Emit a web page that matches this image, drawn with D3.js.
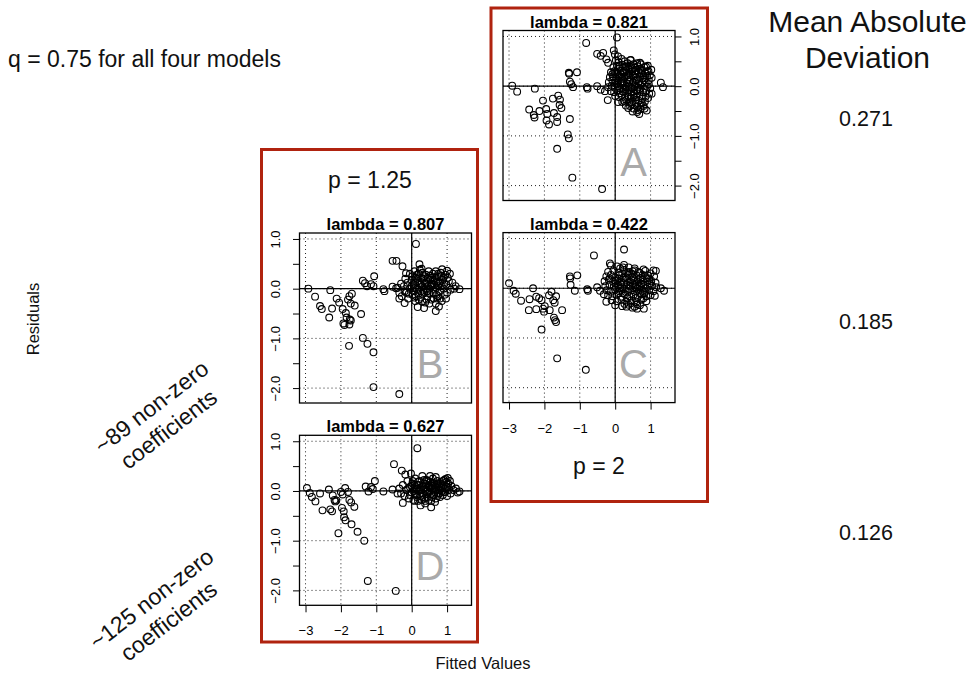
<!DOCTYPE html>
<html>
<head>
<meta charset="utf-8">
<script src="https://cdn.jsdelivr.net/npm/d3@7"></script>
<style>
  body { margin: 0; background: #fff; }
  svg { display: block; font-family: "Liberation Sans", Arial, Helvetica, sans-serif; }
</style>
</head>
<body>
<svg id="chart" width="972" height="673"></svg>
<script>
// ---- tick values and labels ----
const xTicks = [-3, -2, -1, 0, 1];
const yTicks = [1, 0.5, 0, -0.5, -1, -1.5, -2];
const yLabelTicks = [1, 0, -1, -2];
const gridX = [-3, -2, -1, 0, 1];
const gridY = [1, 0, -1, -2];

// ---- model summaries ----
const panelNames = ["A", "B", "C", "D"];
const lambdas = ["0.821", "0.807", "0.422", "0.627"];
const madValues = ["0.271", "0.185", "0.126"];

// ---- residuals vs fitted values: [fitted, residual] ----
const residA = [
  [-2.91,0.01],[-2.77,-0.11],[-2.27,-0.05],[-2.43,-0.47],[-2.3,-0.58],[-2.28,-0.63],[-2.14,-0.5],[-2.04,-0.29],
  [-1.95,-0.46],[-1.92,-0.56],[-1.94,-0.69],[-1.87,-0.77],[-1.76,-0.25],[-1.73,-0.54],[-1.64,-0.62],[-1.64,-0.72],
  [-1.61,-0.19],[-1.57,-0.38],[-1.52,-0.44],[-1.56,-0.27],[-1.64,-1.26],[-1.34,-0.97],[-1.31,-1.05],[-1.28,-0.66],
  [-1.21,-1.84],[-1.31,0.27],[-1.3,0.25],[-1.08,0.28],[-1.28,0.09],[-1.19,-0.02],[-1.24,0.04],[-0.82,0.87],
  [-0.8,-0.02],[-0.78,-0.05],[-0.51,0.0],[-0.41,-0.07],[-0.29,-0.1],[-0.21,-0.28],[-0.37,-2.07],[0.05,0.98],
  [-0.51,0.65],[-0.41,0.61],[-0.34,0.67],[-0.25,0.54],[-0.2,0.47],[-0.04,0.72],[-0.01,0.64],[0.08,0.6],
  [1.29,0.07],[1.35,-0.02],[0.08,-0.32],[0.3,-0.39],[0.37,-0.44],[0.49,-0.51],[0.62,-0.52],[0.68,-0.56],
  [0.89,-0.49],[0.43,0.52],[0.7,0.47],[0.87,0.39],[1.02,0.33],[1.03,0.17],[0.98,0.22],[1.03,-0.15],
  [0.02,0.52],[0.1,0.48],[0.18,0.55],[0.27,0.5],[0.35,0.46],[0.44,0.53],[0.52,0.44],
  [-0.05,0.38],[0.05,0.41],[0.12,0.36],[0.2,0.43],[0.28,0.39],[0.37,0.35],[0.45,0.42],[0.55,0.37],[0.64,0.4],[0.73,0.44],[0.82,0.38],[0.92,0.41],
  [-0.12,0.28],[-0.02,0.3],[0.07,0.25],[0.15,0.31],[0.23,0.27],[0.31,0.32],[0.4,0.26],[0.48,0.3],[0.57,0.24],[0.66,0.29],[0.75,0.32],[0.85,0.26],[0.94,0.3],
  [-0.15,0.18],[-0.06,0.2],[0.03,0.16],[0.11,0.21],[0.19,0.15],[0.27,0.19],[0.36,0.22],[0.44,0.17],[0.53,0.2],[0.61,0.14],[0.7,0.19],[0.79,0.16],[0.9,0.2],
  [-0.18,0.08],[-0.08,0.12],[0.0,0.07],[0.08,0.11],[0.16,0.06],[0.24,0.1],[0.33,0.05],[0.41,0.12],[0.5,0.08],[0.58,0.04],[0.67,0.1],[0.76,0.06],[0.86,0.09],[0.95,0.04],
  [-0.2,-0.02],[-0.1,0.01],[-0.01,-0.03],[0.07,0.0],[0.14,-0.04],[0.22,0.02],[0.3,-0.02],[0.39,0.01],[0.47,-0.04],[0.55,0.0],[0.64,-0.03],[0.72,0.02],[0.81,-0.05],[0.9,-0.01],[0.99,-0.04],
  [-0.12,-0.1],[-0.03,-0.12],[0.06,-0.09],[0.13,-0.14],[0.21,-0.1],[0.29,-0.13],[0.37,-0.08],[0.45,-0.12],[0.53,-0.1],[0.62,-0.14],[0.7,-0.09],[0.79,-0.12],[0.88,-0.1],[0.96,-0.15],
  [0.0,-0.2],[0.1,-0.22],[0.19,-0.18],[0.28,-0.23],[0.36,-0.2],[0.44,-0.24],[0.52,-0.19],[0.6,-0.22],[0.69,-0.2],[0.77,-0.25],[0.86,-0.21],[0.93,-0.24],
  [0.2,-0.32],[0.31,-0.28],[0.41,-0.33],[0.5,-0.3],[0.58,-0.35],[0.66,-0.29],[0.75,-0.34],[0.84,-0.31],
  [0.42,-0.4],[0.52,-0.45],[0.62,-0.41],[0.72,-0.46],[0.8,-0.4],
  [0.05,0.05],[0.15,0.18],[0.25,0.3],[0.35,0.12],[0.45,-0.02],[0.55,0.3],[0.65,0.05],[0.12,0.4],[0.3,-0.05],[0.42,0.38],
  [0.6,-0.08],[0.7,0.35],[0.5,0.22],[0.8,0.22],[0.2,0.08],[0.38,-0.22],[0.58,-0.28],[0.72,-0.38],[0.62,0.46],
  [0.03,0.28],[0.1,0.0],[0.17,0.24],[0.24,-0.07],[0.32,0.4],[0.39,0.18],[0.46,0.34],[0.53,-0.15],[0.6,0.32],[0.68,-0.06],
  [0.74,0.26],[0.82,0.12],[0.9,0.3],[0.25,-0.3],[0.47,-0.36],[0.65,-0.48],[0.83,-0.45],[0.95,0.12],[-0.08,0.24],[0.58,0.12]
];

const residB = [
  [-2.92,0.0],[-2.73,-0.16],[-2.59,-0.35],[-2.54,-0.41],[-2.33,-0.58],[-2.3,-0.03],[-2.25,-0.4],[-2.12,-0.2],
  [-2.05,-0.28],[-1.95,-0.41],[-1.86,-0.49],[-1.84,-0.58],[-1.93,-0.7],[-1.9,-0.73],[-1.76,-0.72],[-1.72,-0.64],
  [-1.76,-0.15],[-1.69,-0.1],[-1.8,-0.22],[-1.72,-0.3],[-1.61,-0.34],[-1.75,-0.62],[-1.43,-0.51],[-1.77,-1.15],
  [-1.38,-0.99],[-1.25,-1.11],[-1.08,-1.28],[-1.08,-1.98],[-0.35,-2.12],[-1.38,0.16],[-1.32,0.11],[-1.26,0.05],
  [-1.15,0.09],[-1.08,0.05],[-1.06,0.25],[-0.8,-0.01],[-0.77,-0.05],[-0.54,0.56],[-0.43,0.56],[0.12,0.9],
  [-0.26,0.45],[-0.16,0.31],[0.22,0.49],[-0.54,0.04],[-0.44,0.01],[-0.2,-0.29],[-0.35,-0.2],[1.35,-0.01],
  [1.24,0.05],[0.86,0.39],[1.0,0.36],[0.17,-0.37],[0.35,-0.39],[0.68,-0.45],[0.77,-0.36],
  [-0.4,0.02],[-0.35,-0.08],[-0.3,0.1],[-0.28,-0.15],[-0.22,0.05],[-0.18,0.2],[-0.15,-0.08],[-0.12,0.12],[-0.1,-0.2],[-0.05,0.3],
  [-0.05,0.0],[0.0,0.18],[0.02,-0.12],[0.05,0.08],[0.08,0.35],[0.1,-0.25],[0.12,0.22],[0.15,0.0],[0.18,-0.1],[0.2,0.3],
  [0.22,0.12],[0.25,-0.18],[0.28,0.4],[0.3,0.05],[0.32,0.2],[0.35,-0.08],[0.38,-0.28],[0.4,0.28],[0.42,0.1],[0.45,-0.15],
  [0.48,0.35],[0.5,0.0],[0.52,0.18],[0.55,-0.22],[0.58,0.08],[0.6,0.3],[0.62,-0.1],[0.65,0.15],[0.68,-0.3],[0.7,0.02],
  [0.72,0.25],[0.75,-0.15],[0.78,0.1],[0.8,-0.05],[0.82,0.32],[0.85,-0.25],[0.88,0.18],[0.9,0.0],[0.93,-0.12],[0.95,0.28],
  [0.98,0.08],[1.0,-0.08],[1.05,0.15],[1.08,0.3],[1.1,-0.02],[1.15,0.12],[1.2,0.0],
  [0.0,0.05],[0.05,-0.05],[0.1,0.12],[0.15,0.2],[0.2,-0.02],[0.25,0.08],[0.3,-0.1],[0.35,0.15],[0.4,0.0],[0.45,0.2],
  [0.5,-0.08],[0.55,0.1],[0.6,-0.02],[0.65,0.22],[0.7,-0.12],[0.75,0.05],[0.8,0.15],[0.85,0.05],[0.15,0.28],[0.3,0.32],
  [0.45,0.05],[0.6,0.18],[0.75,0.3],[0.2,-0.22],[0.42,-0.22],[0.62,-0.2],[0.8,-0.2],[-0.08,-0.1],[-0.2,-0.05],[0.33,-0.02],
  [0.52,0.26],[0.7,0.12],[0.9,0.22],[0.1,0.02],[0.27,0.22],[0.12,-0.15],
  [0.02,0.25],[0.08,-0.18],[0.18,0.15],[0.26,-0.05],[0.36,0.25],[0.44,-0.05],[0.54,0.05],[0.64,0.08],[0.72,-0.2],[0.84,0.25],
  [0.92,0.1],[1.02,0.22],[0.5,-0.3],[0.3,-0.25],[-0.12,0.05],[0.38,0.1],[0.58,0.22],[0.68,0.35],[0.97,-0.2],[0.23,0.38]
];

const residC = [
  [-3.0,0.1],[-2.87,-0.05],[-2.81,-0.11],[-2.66,-0.25],[-2.44,-0.44],[-2.42,-0.22],[-2.32,0.0],[-2.23,-0.17],
  [-2.23,-0.42],[-2.15,-0.2],[-2.08,-0.24],[-2.04,-0.41],[-2.01,-0.47],[-1.99,-0.36],[-1.87,-0.14],[-1.85,-0.44],
  [-1.8,-0.07],[-1.75,-0.24],[-1.71,-0.29],[-1.67,-0.16],[-1.73,-0.59],[-1.67,-0.68],[-1.7,-0.64],[-1.5,-0.44],
  [-2.08,-0.83],[-1.64,-1.41],[-0.83,-1.64],[-1.28,0.24],[-1.27,0.2],[-1.07,0.26],[-1.26,0.07],[-1.14,-0.05],
  [-0.6,0.66],[-0.79,-0.02],[-0.77,-0.05],[-0.51,0.02],[-0.43,-0.05],[-0.32,-0.12],[-0.25,-0.27],[0.25,0.78],
  [-0.15,0.5],[0.25,0.47],[1.29,0.0],[1.38,-0.05],[0.32,-0.37],[0.49,-0.39],[0.62,-0.41],[0.81,-0.41],
  [1.15,0.35],[1.12,-0.15],
  [-0.12,0.46],[0.05,0.44],[0.22,0.42],[0.38,0.42],[0.55,0.4],[0.8,0.38],
  [-0.2,0.33],[-0.05,0.36],[0.1,0.32],[0.25,0.37],[0.4,0.33],[0.55,0.36],[0.7,0.31],[0.85,0.35],[1.0,0.3],[1.08,0.36],
  [-0.25,0.24],[-0.12,0.27],[0.0,0.22],[0.12,0.26],[0.24,0.21],[0.36,0.27],[0.48,0.23],[0.6,0.26],[0.72,0.21],[0.84,0.25],[0.96,0.2],[1.1,0.24],
  [-0.3,0.14],[-0.18,0.17],[-0.06,0.13],[0.06,0.16],[0.18,0.12],[0.3,0.17],[0.42,0.13],[0.54,0.16],[0.66,0.12],[0.78,0.17],[0.9,0.13],[1.02,0.15],[1.14,0.11],
  [-0.28,0.04],[-0.16,0.07],[-0.04,0.03],[0.08,0.06],[0.2,0.02],[0.32,0.07],[0.44,0.03],[0.56,0.06],[0.68,0.02],[0.8,0.07],[0.92,0.03],[1.04,0.05],[1.16,0.02],
  [-0.24,-0.04],[-0.12,-0.07],[0.0,-0.03],[0.12,-0.06],[0.24,-0.02],[0.36,-0.07],[0.48,-0.04],[0.6,-0.06],[0.72,-0.03],[0.84,-0.07],[0.96,-0.04],[1.08,-0.06],
  [-0.2,-0.14],[-0.08,-0.16],[0.04,-0.13],[0.16,-0.17],[0.28,-0.12],[0.4,-0.16],[0.52,-0.13],[0.64,-0.17],[0.76,-0.12],[0.88,-0.16],[1.0,-0.14],
  [-0.1,-0.24],[0.05,-0.26],[0.18,-0.23],[0.32,-0.27],[0.46,-0.24],[0.6,-0.27],[0.74,-0.23],[0.88,-0.26],
  [0.0,-0.34],[0.2,-0.36],[0.38,-0.33],[0.55,-0.37],[0.7,-0.34],
  [0.02,0.1],[0.14,0.0],[0.26,0.12],[0.38,-0.01],[0.5,0.1],[0.62,-0.01],[0.74,0.09],[0.86,0.0],[0.1,-0.1],[0.34,-0.2],
  [0.58,-0.2],[0.8,-0.2],[0.2,0.3],[0.46,0.3],[0.66,0.33],[0.92,0.26],[0.3,0.22],[0.7,-0.1],
  [0.0,0.15],[0.1,0.2],[0.16,0.08],[0.22,-0.1],[0.34,0.32],[0.4,0.05],[0.52,0.2],[0.58,0.02],[0.64,0.18],[0.7,0.04],
  [0.78,0.27],[0.82,-0.1],[0.9,0.2],[0.98,0.1],[0.44,-0.3],[0.26,-0.31],[0.62,-0.32],[-0.16,0.2],[0.14,0.4],[0.5,0.34]
];

const residD = [
  [-2.96,0.06],[-2.88,-0.04],[-2.82,-0.12],[-2.72,-0.21],[-2.59,-0.05],[-2.52,-0.39],[-2.34,0.03],[-2.3,-0.37],
  [-2.25,-0.41],[-2.23,-0.09],[-2.18,-0.18],[-2.16,-0.21],[-2.13,-0.19],[-2.07,-0.85],[-2.0,-0.02],[-1.95,-0.07],
  [-1.88,0.06],[-1.8,-0.02],[-1.97,-0.34],[-1.92,-0.41],[-1.91,-0.53],[-1.87,-0.59],[-1.76,-0.18],[-1.71,-0.23],
  [-1.62,-0.32],[-1.7,-0.67],[-1.53,-0.82],[-1.34,-1.0],[-1.24,-1.81],[-0.45,-2.01],[-1.3,0.09],[-1.22,-0.01],
  [-1.15,0.08],[-1.1,0.04],[-1.04,0.2],[-0.8,-0.01],[-0.5,0.54],[-0.28,0.41],[-0.18,0.33],[-0.02,0.35],
  [-0.54,0.03],[-0.4,-0.05],[-0.25,-0.24],[0.16,0.86],[1.35,-0.01],[1.02,0.26],[0.96,0.24],[0.25,-0.29],
  [0.55,-0.33],[0.39,-0.2],[0.08,-0.2],
  [-0.35,0.05],[-0.3,-0.05],[-0.25,0.12],[-0.2,-0.1],[-0.15,0.02],[-0.12,0.2],[-0.08,-0.15],[-0.05,0.08],[0.0,-0.03],[0.02,0.15],
  [0.05,-0.18],[0.08,0.05],[0.1,0.25],[0.12,-0.08],[0.15,0.12],[0.18,-0.2],[0.2,0.0],[0.22,0.2],[0.25,-0.1],[0.28,0.08],
  [0.3,0.3],[0.32,-0.05],[0.35,0.15],[0.38,-0.25],[0.4,0.03],[0.42,0.22],[0.45,-0.12],[0.48,0.1],[0.5,-0.02],[0.52,0.18],
  [0.55,-0.2],[0.58,0.05],[0.6,0.25],[0.62,-0.08],[0.65,0.12],[0.68,-0.15],[0.7,0.02],[0.72,0.2],[0.75,-0.05],[0.78,0.1],
  [0.8,-0.12],[0.82,0.15],[0.85,0.0],[0.88,-0.08],[0.9,0.12],[0.92,0.22],[0.95,-0.02],[0.98,0.08],[1.0,-0.1],[1.03,0.15],
  [1.05,0.02],[1.1,-0.05],[1.12,0.1],[1.18,0.02],[1.25,0.05],[1.3,-0.03],
  [0.0,0.1],[0.05,0.0],[0.1,-0.05],[0.15,0.05],[0.2,0.12],[0.25,0.02],[0.3,-0.12],[0.35,0.05],[0.4,0.14],[0.45,0.0],
  [0.5,0.08],[0.55,-0.06],[0.6,0.1],[0.65,-0.02],[0.7,0.08],[0.75,0.15],[0.8,0.02],[0.85,0.1],[0.9,-0.02],[0.28,-0.18],
  [0.48,-0.18],[0.68,0.28],[0.15,-0.12],[0.35,0.22],[0.52,0.3],[0.62,0.16],[0.78,-0.05],[0.98,0.18],[0.08,0.12],[-0.1,0.05],
  [0.44,-0.06],[0.58,-0.12],
  [0.03,0.2],[0.12,0.03],[0.22,-0.06],[0.32,0.1],[0.42,-0.02],[0.47,0.2],[0.57,0.15],[0.63,0.03],[0.73,-0.1],[0.83,0.06],
  [0.93,0.05],[1.02,0.08],[0.36,-0.15],[0.56,0.1],[0.72,0.12],[0.18,0.18],[0.88,0.2],[-0.05,-0.08],[0.66,-0.22],[1.08,0.2]
];

// ---- layout ----
const W = 172, H = 170;
const xDomain = [-3.17, 1.69];
const yDomain = [-2.3, 1.12];

const panels = [
  { name: panelNames[0], lambda: lambdas[0], data: residA, x: 503,   y: 30.5,  axes: ["right"] },
  { name: panelNames[1], lambda: lambdas[1], data: residB, x: 299.5, y: 233,   axes: ["left"] },
  { name: panelNames[2], lambda: lambdas[2], data: residC, x: 503,   y: 232.6, axes: ["bottom"] },
  { name: panelNames[3], lambda: lambdas[3], data: residD, x: 299.5, y: 435.3, axes: ["left", "bottom"] }
];

const svg = d3.select("#chart");
const font = "'Liberation Sans', Arial, sans-serif";
const fmt = d => (d < 0 ? "\u2212" : "") + Math.abs(d).toFixed(1);
const fmtX = d => (d < 0 ? "\u2212" : "") + Math.abs(d);

// red frames grouping models by p
const frameColor = "#b0230f";
svg.append("rect").attr("x", 261.5).attr("y", 149.5).attr("width", 216).attr("height", 492.5)
  .attr("fill", "none").attr("stroke", frameColor).attr("stroke-width", 3);
svg.append("rect").attr("x", 491).attr("y", 8).attr("width", 216.5).attr("height", 493.5)
  .attr("fill", "none").attr("stroke", frameColor).attr("stroke-width", 3);

panels.forEach(p => {
  const g = svg.append("g").attr("transform", `translate(${p.x},${p.y})`);
  const x = d3.scaleLinear().domain(xDomain).range([0, W]);
  const y = d3.scaleLinear().domain(yDomain).range([H, 0]);

  // dotted grid
  g.selectAll(".gx").data(gridX).join("line")
    .attr("x1", d => x(d)).attr("x2", d => x(d)).attr("y1", 0).attr("y2", H)
    .attr("stroke", "#222").attr("stroke-width", 1).attr("stroke-dasharray", "1,3");
  g.selectAll(".gy").data(gridY).join("line")
    .attr("x1", 0).attr("x2", W).attr("y1", d => y(d)).attr("y2", d => y(d))
    .attr("stroke", "#222").attr("stroke-width", 1).attr("stroke-dasharray", "1,3");

  // zero reference lines
  g.append("line").attr("x1", 0).attr("x2", W).attr("y1", y(0)).attr("y2", y(0))
    .attr("stroke", "#000").attr("stroke-width", 1.2);
  g.append("line").attr("x1", x(0)).attr("x2", x(0)).attr("y1", 0).attr("y2", H)
    .attr("stroke", "#000").attr("stroke-width", 1.2);

  // panel letter
  g.append("text").attr("x", 130.5).attr("y", 145).attr("text-anchor", "middle")
    .attr("font-size", 40).attr("font-family", font).attr("fill", "#aaaaaa").text(p.name);

  // points
  g.selectAll("circle").data(p.data).join("circle")
    .attr("cx", d => x(d[0])).attr("cy", d => y(d[1])).attr("r", 3.4)
    .attr("fill", "none").attr("stroke", "#000").attr("stroke-width", 1.1);

  // box
  g.append("rect").attr("x", 0).attr("y", 0).attr("width", W).attr("height", H)
    .attr("fill", "none").attr("stroke", "#000").attr("stroke-width", 1.3);

  // title
  g.append("text").attr("x", W / 2).attr("y", -3).attr("text-anchor", "middle")
    .attr("font-size", 16.5).attr("font-weight", "bold").attr("font-family", font).attr("fill", "#000")
    .text("lambda = " + p.lambda);

  // axes
  p.axes.forEach(side => {
    if (side === "left" || side === "right") {
      const ax = (side === "left" ? d3.axisLeft(y) : d3.axisRight(y))
        .tickValues(yTicks).tickSize(6.5).tickSizeOuter(0)
        .tickFormat(d => yLabelTicks.includes(d) ? fmt(d) : "");
      const ag = g.append("g").attr("transform", side === "left" ? "translate(0,0)" : `translate(${W},0)`).call(ax);
      ag.select(".domain").remove();
      ag.selectAll("line").attr("stroke", "#000").attr("stroke-width", 1);
      ag.selectAll("text")
        .attr("x", null).attr("dy", null)
        .attr("transform", side === "left" ? "translate(-19.5,0) rotate(-90)" : "translate(23.5,0) rotate(-90)")
        .attr("text-anchor", "middle").attr("font-size", 13).attr("fill", "#000")
        .attr("font-family", font);
    } else {
      const ax = d3.axisBottom(x).tickValues(xTicks).tickSize(7).tickSizeOuter(0).tickFormat(fmtX);
      const ag = g.append("g").attr("transform", `translate(0,${H})`).call(ax);
      ag.select(".domain").remove();
      ag.selectAll("line").attr("stroke", "#000").attr("stroke-width", 1);
      ag.selectAll("text").attr("y", 30).attr("dy", null)
        .attr("font-size", 13).attr("fill", "#000")
        .attr("font-family", font);
    }
  });
});

// ---- annotations ----
svg.append("text").attr("x", 8).attr("y", 67).attr("font-size", 23).attr("font-family", font)
  .attr("fill", "#111").text("q = 0.75 for all four models");

svg.append("text").attr("x", 370).attr("y", 188).attr("text-anchor", "middle").attr("font-size", 23)
  .attr("font-family", font).attr("fill", "#111").text("p = 1.25");
svg.append("text").attr("x", 599).attr("y", 474).attr("text-anchor", "middle").attr("font-size", 23)
  .attr("font-family", font).attr("fill", "#111").text("p = 2");

svg.append("text").attr("x", 867.5).attr("y", 32).attr("text-anchor", "middle").attr("font-size", 30)
  .attr("font-family", font).attr("fill", "#111").text("Mean Absolute");
svg.append("text").attr("x", 867.5).attr("y", 68).attr("text-anchor", "middle").attr("font-size", 30)
  .attr("font-family", font).attr("fill", "#111").text("Deviation");

const madY = [126, 329, 540];
madValues.forEach((v, i) => {
  svg.append("text").attr("x", 866).attr("y", madY[i]).attr("text-anchor", "middle").attr("font-size", 21.5)
    .attr("font-family", font).attr("fill", "#111").text(v);
});

svg.append("text").attr("transform", "translate(38.5,319) rotate(-90)").attr("text-anchor", "middle")
  .attr("font-size", 16.5).attr("font-family", font).attr("fill", "#111").text("Residuals");
svg.append("text").attr("x", 483).attr("y", 669).attr("text-anchor", "middle")
  .attr("font-size", 16.5).attr("font-family", font).attr("fill", "#111").text("Fitted Values");

const coefNotes = [
  { cx: 160, cy: 418, lines: ["~89 non-zero", "coefficients"] },
  { cx: 160, cy: 610, lines: ["~125 non-zero", "coefficients"] }
];
coefNotes.forEach(n => {
  const t = svg.append("g").attr("transform", `translate(${n.cx},${n.cy}) rotate(-37.5)`);
  n.lines.forEach((s, i) => {
    t.append("text").attr("x", 0).attr("y", i === 0 ? -6 : 22).attr("text-anchor", "middle")
      .attr("font-size", 23).attr("font-family", font).attr("fill", "#111").text(s);
  });
});
</script>
</body>
</html>
